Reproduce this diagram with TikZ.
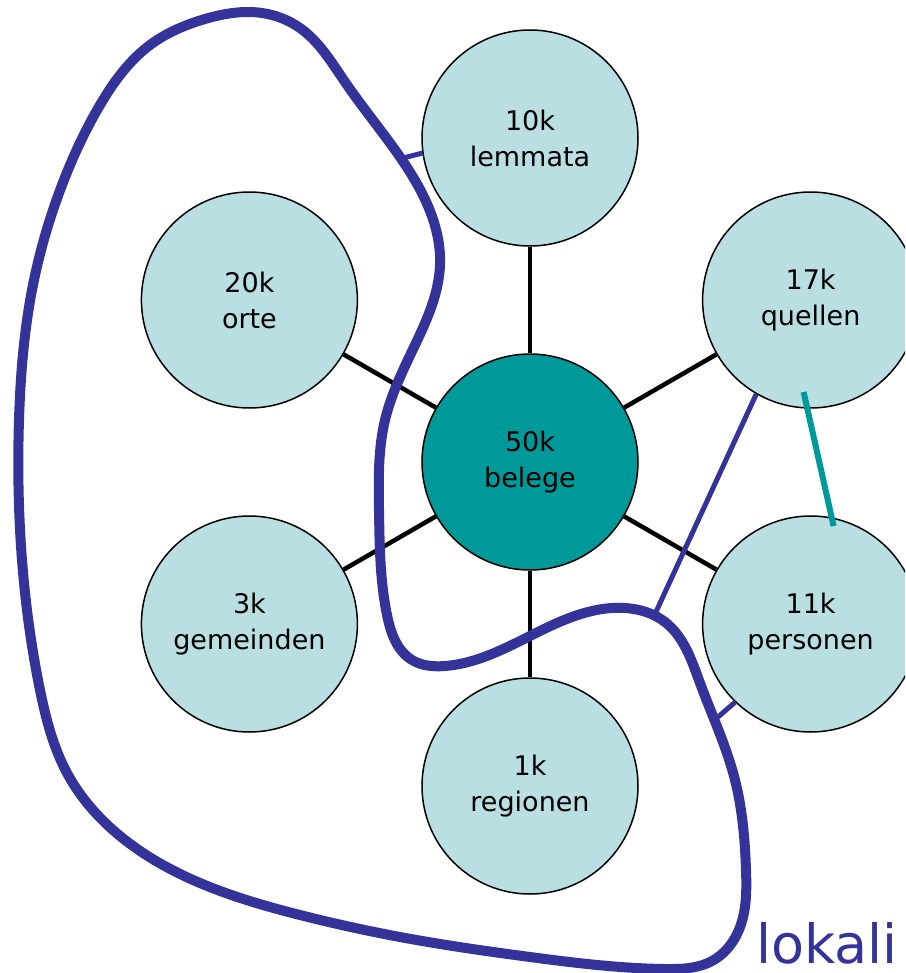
\documentclass[tikz,border=0pt]{standalone}
\usepackage{fontspec}
\setmainfont{DejaVu Sans}
\usetikzlibrary{calc,hobby}
\definecolor{lightcyan}{HTML}{B9DFE2}
\definecolor{darkteal}{HTML}{009999}
\definecolor{loopblue}{HTML}{333399}
\tikzset{
    entity/.style={draw,circle,line width=1.5pt,fill=lightcyan,minimum size=216pt,inner sep=0pt,align=center,font=\fontsize{27}{36}\selectfont},
    link/.style={loopblue,line width=5pt}
}

\begin{document}
\begin{tikzpicture}[x=1pt,y=-1pt]
        \pgfmathsetmacro{\dist}{324}
        \useasboundingbox (0,0) rectangle (905,973);
        \clip (0,0) rectangle (905,973);

        %draw central node
        \node[entity,fill=darkteal] (belege) at (530,462) {50k\\belege};
        %draw outer nodes and spokes
        \foreach \a/\name/\num in {270/lemmata/10k,210/orte/20k,330/quellen/17k,150/gemeinden/3k,30/personen/11k,90/regionen/1k}{
            \node[entity] (\name) at ($(belege)+(\a:\dist)$) {\num\\\name};
            \draw[line width=4.5pt] (belege) -- (\name);
        }
        %draw loop
        \draw[loopblue,line width=10pt,use Hobby shortcut,closed=true]
            (262,13) .. (300,28) .. (345,82) .. (400,157) .. (440,265) .. (415,345)
            .. (385,420) .. (379,510) .. (387,615) .. (412,660) .. (445,666) .. (540,631)
            .. (625,608) .. (665,622) .. (700,683) .. (735,780) .. (746,870) .. (738,932)
            .. (712,961) .. (665,969) .. (530,957) .. (400,937) .. (300,915) .. (200,883)
            .. (120,836) .. (67,773) .. (40,690) .. (22,560) .. (19,420) .. (32,290)
            .. (62,185) .. (100,105) .. (150,45) .. (205,19);
        %draw links from loop
        \coordinate (loopA) at (403,158);
        \coordinate (loopB) at (718,717);
        \coordinate (loopC) at (655,614);
        \draw[link] (loopA) -- (lemmata.188);
        \draw[link] (loopB) -- (personen.226);
        \draw[link] (loopC) -- (quellen.240);
        %draw quellen-personen link
        \draw[darkteal,line width=6pt] ($(quellen)+(-7,92)$) -- ($(personen)+(23,-98)$);
        %place label
        \node[anchor=base west,inner sep=0pt,text=loopblue,font=\fontsize{54}{60}\selectfont] (lokali) at (756,963) {lokali};

      \end{tikzpicture}
\end{document}
